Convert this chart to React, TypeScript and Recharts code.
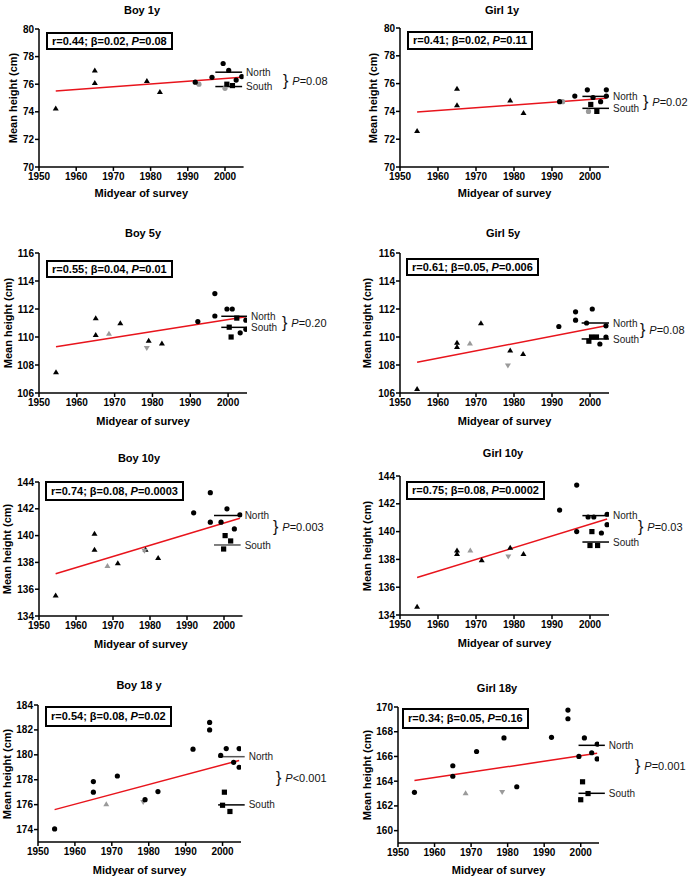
import React from "react";
import { ScatterChart, Scatter, XAxis, YAxis, ReferenceLine } from "recharts";

type Pt = [number, number];

const xTicks = [1950, 1960, 1970, 1980, 1990, 2000];
const xDomain: [number, number] = [1950, 2005];
const smallTicks = [70, 72, 74, 76, 78, 80];
const ticks5 = [106, 108, 110, 112, 114, 116];
const ticks10 = [134, 136, 138, 140, 142, 144];
const ticksBoy18 = [174, 176, 178, 180, 182, 184];
const ticksGirl18 = [160, 162, 164, 166, 168, 170];

// Boy 1y
const boy1yTri: Pt[] = [[1954.5, 74.25], [1965, 77.0], [1965, 76.1], [1979, 76.25], [1982.5, 75.45]];
const boy1yGrayDot: Pt[] = [[1993, 76.0], [2000, 75.7]];
const boy1yCirc: Pt[] = [[1992, 76.15], [1996.5, 76.5], [1999.5, 77.5], [2001, 77.0], [2003, 76.3], [2004.5, 76.55]];
const boy1ySq: Pt[] = [[2000.5, 76.0], [2002, 75.9]];
const boy1yReg: Pt[] = [[1954.5, 75.5], [2004.5, 76.5]];
const boy1yNS = [76.87, 75.83];
const boy1yStats = ["0.44", "0.02", "0.08"];

// Girl 1y
const girl1yTri: Pt[] = [[1954.5, 72.6], [1965, 75.65], [1965, 74.45], [1979, 74.8], [1982.5, 73.9]];
const girl1yGrayDot: Pt[] = [[1992.8, 74.7], [1999.6, 74.0]];
const girl1yCirc: Pt[] = [[1992, 74.7], [1996, 75.1], [1999.3, 75.55], [2000.8, 75.0], [2002.8, 74.7], [2004.3, 75.55], [2004.3, 75.1]];
const girl1ySq: Pt[] = [[2000.2, 74.5], [2001.8, 74.0]];
const girl1yReg: Pt[] = [[1954.5, 73.95], [2004.3, 74.95]];
const girl1yNS = [75.08, 74.22];
const girl1yStats = ["0.41", "0.02", "0.11"];

// Boy 5y
const boy5yTri: Pt[] = [[1954.5, 107.5], [1965, 111.35], [1965, 110.15], [1971.5, 111.0], [1979, 109.75], [1982.5, 109.55]];
const boy5yGrayUp: Pt[] = [[1968.5, 110.25]];
const boy5yGrayDown: Pt[] = [[1978.5, 109.2]];
const boy5yCirc: Pt[] = [[1992, 111.1], [1996.5, 113.1], [1996.5, 111.5], [1999.7, 112.0], [2001.1, 112.0], [2003.2, 110.3], [2004.7, 111.2], [2004.7, 110.55]];
const boy5ySq: Pt[] = [[2000.3, 110.7], [2002.3, 111.35], [2000.8, 110.0]];
const boy5yReg: Pt[] = [[1954.5, 109.3], [2004.7, 111.45]];
const boy5yNS = [111.48, 110.69];
const boy5yStats = ["0.55", "0.04", "0.01"];

// Girl 5y
const girl5yTri: Pt[] = [[1954.5, 106.3], [1965, 109.6], [1965, 109.3], [1971.3, 111.0], [1979, 109.05], [1982.4, 108.8]];
const girl5yGrayUp: Pt[] = [[1968.4, 109.55]];
const girl5yGrayDown: Pt[] = [[1978.4, 107.95]];
const girl5yCirc: Pt[] = [[1991.8, 110.75], [1996.2, 111.8], [1996.2, 111.2], [1999.1, 111.0], [2000.6, 112.0], [2002.6, 109.5], [2004.2, 110.0], [2004.2, 110.8]];
const girl5ySq: Pt[] = [[1999.7, 109.7], [2000.4, 110.0], [2001.7, 110.0]];
const girl5yReg: Pt[] = [[1954.5, 108.2], [2004.2, 110.8]];
const girl5yNS = [111.0, 109.86];
const girl5yStats = ["0.61", "0.05", "0.006"];

// Boy 10y
const boy10yTri: Pt[] = [[1954.5, 135.55], [1965, 140.15], [1965, 138.95], [1971.3, 137.95], [1978.8, 138.95], [1982.2, 138.35]];
const boy10yGrayUp: Pt[] = [[1968.5, 137.75]];
const boy10yGrayDown: Pt[] = [[1978.5, 138.85]];
const boy10yCirc: Pt[] = [[1991.8, 141.7], [1996.3, 143.2], [1996.3, 141.0], [1999.2, 141.0], [2000.8, 142.0], [2002.8, 140.5], [2004.3, 141.55]];
const boy10ySq: Pt[] = [[2000.3, 140.0], [1999.9, 139.0], [2001.8, 139.6]];
const boy10yReg: Pt[] = [[1954.5, 137.15], [2004.3, 141.3]];
const boy10yNS = [141.5, 139.3];
const boy10yStats = ["0.74", "0.08", "0.0003"];

// Girl 10y
const girl10yTri: Pt[] = [[1954.5, 134.6], [1965, 138.65], [1965, 138.4], [1971.5, 137.95], [1979, 138.85], [1982.5, 138.4]];
const girl10yGrayUp: Pt[] = [[1968.5, 138.65]];
const girl10yGrayDown: Pt[] = [[1978.5, 138.2]];
const girl10yCirc: Pt[] = [[1992, 141.55], [1996.5, 143.35], [1996.5, 140.0], [1999.5, 141.05], [2001, 141.05], [2003, 139.9], [2004.5, 141.25], [2004.5, 140.5]];
const girl10ySq: Pt[] = [[2000.5, 140.0], [2000, 139.0], [2002, 139.0]];
const girl10yReg: Pt[] = [[1954.5, 136.7], [2004.5, 140.9]];
const girl10yNS = [141.15, 139.25];
const girl10yStats = ["0.75", "0.08", "0.0002"];

// Boy 18 y
const boy18yCirc: Pt[] = [[1954.5, 174.05], [1965, 177.85], [1965, 177.0], [1971.5, 178.3], [1979, 176.4], [1982.5, 177.05], [1992, 180.45], [1996.5, 182.6], [1996.5, 182.0], [1999.5, 179.95], [2001, 180.5], [2003, 179.4], [2004.5, 180.5], [2004.5, 179.0]];
const boy18yGrayUp: Pt[] = [[1968.5, 176.05]];
const boy18yGrayDown: Pt[] = [[1978.5, 176.2]];
const boy18ySq: Pt[] = [[2000.5, 177.0], [2000, 175.95], [2002, 175.45]];
const boy18yReg: Pt[] = [[1954.5, 175.6], [2004.5, 179.55]];
const boy18yNS = [179.85, 175.98];
const boy18yStats = ["0.54", "0.08", "0.02"];

// Girl 18y
const girl18yCirc: Pt[] = [[1954.5, 163.1], [1965, 165.25], [1965, 164.4], [1971.5, 166.4], [1979, 167.5], [1982.5, 163.55], [1992, 167.55], [1996.5, 169.75], [1996.5, 169.05], [1999.5, 166.0], [2001, 167.5], [2003, 166.3], [2004.5, 167.0], [2004.5, 165.8]];
const girl18yGrayUp: Pt[] = [[1968.5, 163.05]];
const girl18yGrayDown: Pt[] = [[1978.5, 163.1]];
const girl18ySq: Pt[] = [[2000.5, 163.95], [2002, 163.0], [2000, 162.5]];
const girl18yReg: Pt[] = [[1954.5, 164.05], [2004.5, 166.25]];
const girl18yNS = [166.9, 163.02];
const girl18yStats = ["0.34", "0.05", "0.16"];

const BLACK = "#000";
const GRAY = "#9a9a9a";
const FONT = "'Liberation Sans', Arial, sans-serif";

const toPts = (a: Pt[] = []) => a.map(([x, y]) => ({ x, y }));

const marker = (kind: string, color: string) => (props: any) => {
  const { cx, cy } = props;
  if (cx == null || cy == null) return <g />;
  if (kind === "dot") return <circle cx={cx} cy={cy} r={2.6} fill={color} />;
  if (kind === "sq") return <rect x={cx - 2.6} y={cy - 2.6} width={5.2} height={5.2} fill={color} />;
  if (kind === "down") return <path d={`M${cx - 3},${cy - 2.2}L${cx + 3},${cy - 2.2}L${cx},${cy + 2.8}Z`} fill={color} />;
  return <path d={`M${cx - 3},${cy + 2.2}L${cx + 3},${cy + 2.2}L${cx},${cy - 2.8}Z`} fill={color} />;
};

interface PanelDef {
  title: string;
  colX: number;
  plotLeft: number;
  plotRight: number;
  plotTop: number;
  plotBottom: number;
  yDomain: [number, number];
  yTicks: number[];
  tri?: Pt[];
  grayUp?: Pt[];
  grayDown?: Pt[];
  grayDot?: Pt[];
  circ?: Pt[];
  sq?: Pt[];
  reg: Pt[];
  ns: number[];
  seg: number[];
  nsColors?: string[];
  stats: string[];
  groupP: string;
  titlePos: number[];
  yLabelX: number;
  xLabelY: number;
  box: number[];
  brace: number[];
}

const panels: PanelDef[] = [
  {
    title: "Boy 1y", colX: 0, plotLeft: 39, plotRight: 243.6, plotTop: 29, plotBottom: 167,
    yDomain: [70, 80], yTicks: smallTicks, tri: boy1yTri, grayDot: boy1yGrayDot, circ: boy1yCirc, sq: boy1ySq,
    reg: boy1yReg, ns: boy1yNS, seg: [1997.4, 2004.6], stats: boy1yStats, groupP: "=0.08",
    titlePos: [142, 10], yLabelX: 13, xLabelY: 193, box: [46, 32, 18], brace: [283, 81],
  },
  {
    title: "Girl 1y", colX: 345, plotLeft: 400, plotRight: 609, plotTop: 28, plotBottom: 167,
    yDomain: [70, 80], yTicks: smallTicks, tri: girl1yTri, grayDot: girl1yGrayDot, circ: girl1yCirc, sq: girl1ySq,
    reg: girl1yReg, ns: girl1yNS, seg: [1998, 2005], stats: girl1yStats, groupP: "=0.02",
    titlePos: [502, 10], yLabelX: 373, xLabelY: 193, box: [407, 31, 19], brace: [643, 102],
  },
  {
    title: "Boy 5y", colX: 0, plotLeft: 39, plotRight: 247, plotTop: 253, plotBottom: 393,
    yDomain: [106, 116], yTicks: ticks5, tri: boy5yTri, grayUp: boy5yGrayUp, grayDown: boy5yGrayDown, circ: boy5yCirc, sq: boy5ySq,
    reg: boy5yReg, ns: boy5yNS, seg: [1998.2, 2005], stats: boy5yStats, groupP: "=0.20",
    titlePos: [143, 233], yLabelX: 8, xLabelY: 421, box: [46, 260, 18], brace: [282, 323],
  },
  {
    title: "Girl 5y", colX: 345, plotLeft: 400, plotRight: 609, plotTop: 253, plotBottom: 393,
    yDomain: [106, 116], yTicks: ticks5, tri: girl5yTri, grayUp: girl5yGrayUp, grayDown: girl5yGrayDown, circ: girl5yCirc, sq: girl5ySq,
    reg: girl5yReg, ns: girl5yNS, seg: [1997.8, 2005], stats: girl5yStats, groupP: "=0.08",
    titlePos: [503, 233], yLabelX: 367, xLabelY: 421, box: [406, 258, 18], brace: [640, 330],
  },
  {
    title: "Boy 10y", colX: 0, plotLeft: 39, plotRight: 242.5, plotTop: 482, plotBottom: 616,
    yDomain: [134, 144], yTicks: ticks10, tri: boy10yTri, grayUp: boy10yGrayUp, grayDown: boy10yGrayDown, circ: boy10yCirc, sq: boy10ySq,
    reg: boy10yReg, ns: boy10yNS, seg: [1997.3, 2004.5], nsColors: [BLACK, "#555"], stats: boy10yStats, groupP: "=0.003",
    titlePos: [139, 458], yLabelX: 7, xLabelY: 644, box: [45, 481, 20], brace: [273, 527],
  },
  {
    title: "Girl 10y", colX: 345, plotLeft: 400, plotRight: 609, plotTop: 476, plotBottom: 615,
    yDomain: [134, 144], yTicks: ticks10, tri: girl10yTri, grayUp: girl10yGrayUp, grayDown: girl10yGrayDown, circ: girl10yCirc, sq: girl10ySq,
    reg: girl10yReg, ns: girl10yNS, seg: [1998, 2005], stats: girl10yStats, groupP: "=0.03",
    titlePos: [503, 453], yLabelX: 367, xLabelY: 643, box: [406, 481, 19], brace: [638, 527],
  },
  {
    title: "Boy 18 y", colX: 0, plotLeft: 38, plotRight: 241, plotTop: 705, plotBottom: 842,
    yDomain: [173, 184], yTicks: ticksBoy18, grayUp: boy18yGrayUp, grayDown: boy18yGrayDown, circ: boy18yCirc, sq: boy18ySq,
    reg: boy18yReg, ns: boy18yNS, seg: [1998.8, 2006], nsColors: ["#555", BLACK], stats: boy18yStats, groupP: "<0.001",
    titlePos: [139, 685], yLabelX: 7, xLabelY: 870, box: [45, 706, 21], brace: [276, 778],
  },
  {
    title: "Girl 18y", colX: 345, plotLeft: 398, plotRight: 599, plotTop: 707, plotBottom: 843,
    yDomain: [159, 170], yTicks: ticksGirl18, grayUp: girl18yGrayUp, grayDown: girl18yGrayDown, circ: girl18yCirc, sq: girl18ySq,
    reg: girl18yReg, ns: girl18yNS, seg: [1999.4, 2006.6], stats: girl18yStats, groupP: "=0.001",
    titlePos: [497, 688], yLabelX: 367, xLabelY: 870, box: [402, 708, 21], brace: [635, 766],
  },
];

const tickStyle = { fontSize: 10, fontWeight: "bold" as const, fill: BLACK, fontFamily: FONT };
const axisStyle = { stroke: BLACK, strokeWidth: 1.5 };

function Panel({ p }: { p: PanelDef }) {
  const chartTop = p.plotTop - 10;
  const height = p.plotBottom - chartTop + 30;
  const series = [
    { key: "tri", data: p.tri, kind: "tri", color: BLACK },
    { key: "gu", data: p.grayUp, kind: "tri", color: GRAY },
    { key: "gd", data: p.grayDown, kind: "down", color: GRAY },
    { key: "gdot", data: p.grayDot, kind: "dot", color: GRAY },
    { key: "circ", data: p.circ, kind: "dot", color: BLACK },
    { key: "sq", data: p.sq, kind: "sq", color: BLACK },
  ].filter((s) => s.data && s.data.length);
  const nsCol = p.nsColors || [BLACK, BLACK];
  const midY = (p.plotTop + p.plotBottom) / 2;
  const [bl, bt, bh] = p.box;

  return (
    <>
      <div style={{ position: "absolute", left: p.colX, top: chartTop }}>
        <ScatterChart
          width={345}
          height={height}
          margin={{ top: 10, right: p.colX + 345 - p.plotRight, bottom: 0, left: 0 }}
        >
          <XAxis
            type="number"
            dataKey="x"
            domain={xDomain}
            ticks={xTicks}
            allowDataOverflow
            height={30}
            tick={tickStyle}
            tickSize={4}
            tickMargin={2}
            axisLine={axisStyle}
            tickLine={axisStyle}
          />
          <YAxis
            type="number"
            dataKey="y"
            domain={p.yDomain}
            ticks={p.yTicks}
            allowDataOverflow
            width={p.plotLeft - p.colX}
            tick={tickStyle}
            tickSize={4}
            tickMargin={1}
            axisLine={axisStyle}
            tickLine={axisStyle}
          />
          {series.map((s) => (
            <Scatter
              key={s.key}
              data={toPts(s.data)}
              shape={marker(s.kind, s.color)}
              isAnimationActive={false}
            />
          ))}
          <ReferenceLine
            segment={toPts(p.reg)}
            stroke="#e8141c"
            strokeWidth={1.5}
            ifOverflow="visible"
          />
          {p.ns.map((v, i) => (
            <ReferenceLine
              key={i}
              segment={[{ x: p.seg[0], y: v }, { x: p.seg[1], y: v }]}
              stroke={nsCol[i]}
              strokeWidth={1.5}
              ifOverflow="visible"
              label={{
                value: i === 0 ? "North" : "South",
                position: "right",
                offset: 4,
                fill: "#222",
                fontSize: 10,
                fontFamily: FONT,
              }}
            />
          ))}
        </ScatterChart>
      </div>
      <div
        style={{
          position: "absolute",
          left: p.titlePos[0],
          top: p.titlePos[1],
          transform: "translate(-50%, -50%)",
          fontSize: 11,
          fontWeight: "bold",
          whiteSpace: "nowrap",
        }}
      >
        {p.title}
      </div>
      <div
        style={{
          position: "absolute",
          left: p.yLabelX,
          top: midY,
          transform: "translate(-50%, -50%) rotate(-90deg)",
          fontSize: 11,
          fontWeight: "bold",
          whiteSpace: "nowrap",
        }}
      >
        Mean height (cm)
      </div>
      <div
        style={{
          position: "absolute",
          left: (p.plotLeft + p.plotRight) / 2,
          top: p.xLabelY,
          transform: "translate(-50%, -50%)",
          fontSize: 11,
          fontWeight: "bold",
          whiteSpace: "nowrap",
        }}
      >
        Midyear of survey
      </div>
      <div
        style={{
          position: "absolute",
          left: bl,
          top: bt,
          height: bh,
          boxSizing: "border-box",
          border: "2px solid #000",
          padding: "0 4px",
          background: "#fff",
          fontSize: 11,
          fontWeight: "bold",
          lineHeight: `${bh - 4}px`,
          whiteSpace: "nowrap",
        }}
      >
        r={p.stats[0]}; β={p.stats[1]}, <i>P</i>={p.stats[2]}
      </div>
      <div
        style={{
          position: "absolute",
          left: p.brace[0],
          top: p.brace[1],
          transform: "translateY(-50%)",
          whiteSpace: "nowrap",
          display: "flex",
          alignItems: "center",
          color: "#111",
        }}
      >
        <span style={{ fontSize: 16, lineHeight: "16px" }}>{"}"}</span>
        <span style={{ fontSize: 11, marginLeft: 4 }}>
          <i>P</i>
          {p.groupP}
        </span>
      </div>
    </>
  );
}

export default function App() {
  return (
    <div
      style={{
        position: "absolute",
        left: 0,
        top: 0,
        width: 690,
        height: 878,
        background: "#fff",
        fontFamily: FONT,
        color: BLACK,
        overflow: "hidden",
      }}
    >
      {panels.map((p) => (
        <Panel key={p.title} p={p} />
      ))}
    </div>
  );
}
